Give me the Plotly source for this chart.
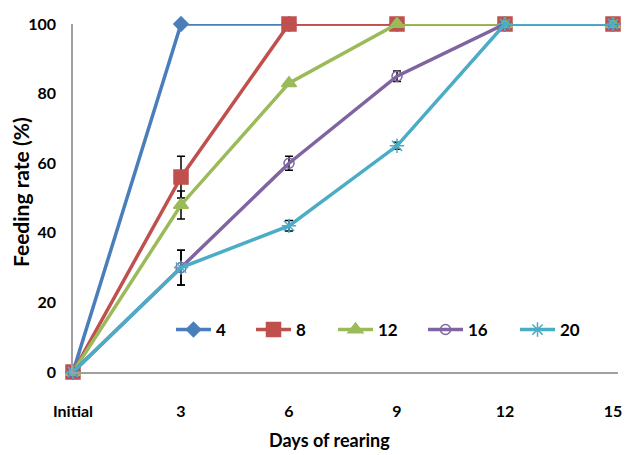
import plotly.graph_objects as go

days = ["Initial", "3", "6", "9", "12", "15"]
series_names = ["4", "8", "12", "16", "20"]
s4 = [0, 100, 100, 100, 100, 100]
s8 = [0, 56, 100, 100, 100, 100]
s12 = [0, 48, 83, 100, 100, 100]
s16 = [0, 30, 60, 85, 100, 100]
s20 = [0, 30, 42, 65, 100, 100]
e4 = [0, 0, 0, 0, 0, 0]
e8 = [0, 6, 0, 0, 0, 0]
e12 = [0, 4, 0, 0, 0, 0]
e16 = [0, 5, 2, 1.5, 0, 0]
e20 = [0, 5, 1.5, 1, 0, 0]

colors = ["#4A7EBB", "#C0504D", "#9BBB59", "#8064A2", "#4BACC6"]
symbols = ["diamond", "square", "triangle-up", "circle-open", "asterisk-open"]
sizes = [11, 14, 13, 10, 12]
values = [s4, s8, s12, s16, s20]
errors = [e4, e8, e12, e16, e20]
legend_ids = ["legend", "legend2", "legend3", "legend4", "legend5"]
legend_px = [178, 258, 340, 430, 522]

L, R, T, B, W, H = 73, 8, 24, 83, 626, 455
PW, PH = W - L - R, H - T - B

xpos = list(range(len(days)))
fig = go.Figure()
for name, v, e, c, sym, sz, lg in zip(series_names, values, errors, colors, symbols, sizes, legend_ids):
    fig.add_trace(go.Scatter(
        x=xpos, y=v, name=name, mode="lines+markers",
        line=dict(color=c, width=3.5),
        marker=dict(symbol=sym, size=sz, color=c, line=dict(color=c, width=1.5)),
        error_y=dict(type="data", array=e, visible=True, color="black", thickness=1.5, width=4),
        cliponaxis=False, legend=lg,
    ))

FAM = "Lato"
xfont = dict(family=FAM, size=16, color="black", weight="bold")
yfont = dict(family=FAM, size=16, color="black", weight="bold")
legfont = dict(family=FAM, size=17, color="black", weight="bold")
layout_legends = {}
for lg, px in zip(legend_ids, legend_px):
    layout_legends[lg] = dict(x=(px - 7 - L) / PW, y=(372 - 330) / PH, xanchor="left", yanchor="middle",
                              font=legfont, bgcolor="rgba(0,0,0,0)", itemwidth=35)
fig.update_layout(
    width=W, height=H,
    margin=dict(l=L, r=R, t=T, b=B, autoexpand=False),
    paper_bgcolor="white", plot_bgcolor="white",
    showlegend=True,
    font=xfont,
    **layout_legends,
)
fig.update_xaxes(
    tickmode="array", tickvals=xpos, ticktext=days,
    range=[0, PW / 108], showgrid=False, zeroline=False, automargin=False,
    showline=True, linecolor="#A0A0A0", linewidth=1.5,
    ticks="", ticklabelstandoff=24, tickfont=xfont,
)
fig.update_yaxes(
    range=[0, 100], tickvals=[0, 20, 40, 60, 80, 100],
    showgrid=False, zeroline=False, automargin=False,
    showline=True, linecolor="#A0A0A0", linewidth=1.5,
    ticks="", ticklabelstandoff=12, tickfont=yfont,
)
fig.add_annotation(text="Feeding rate (%)", xref="paper", yref="paper",
                   x=(20 - L) / PW, y=(372 - 192) / PH, xanchor="center", yanchor="middle",
                   showarrow=False, textangle=-90,
                   font=dict(family=FAM, size=21, color="black", weight="bold"))
fig.add_annotation(text="Days of rearing", xref="paper", yref="paper",
                   x=(329 - L) / PW, y=(372 - 440) / PH, xanchor="center", yanchor="middle",
                   showarrow=False, font=dict(family=FAM, size=18, color="black", weight="bold"))
fig.write_html("out.html", config={"displayModeBar": False},
               post_script="document.body.style.margin='0';")
